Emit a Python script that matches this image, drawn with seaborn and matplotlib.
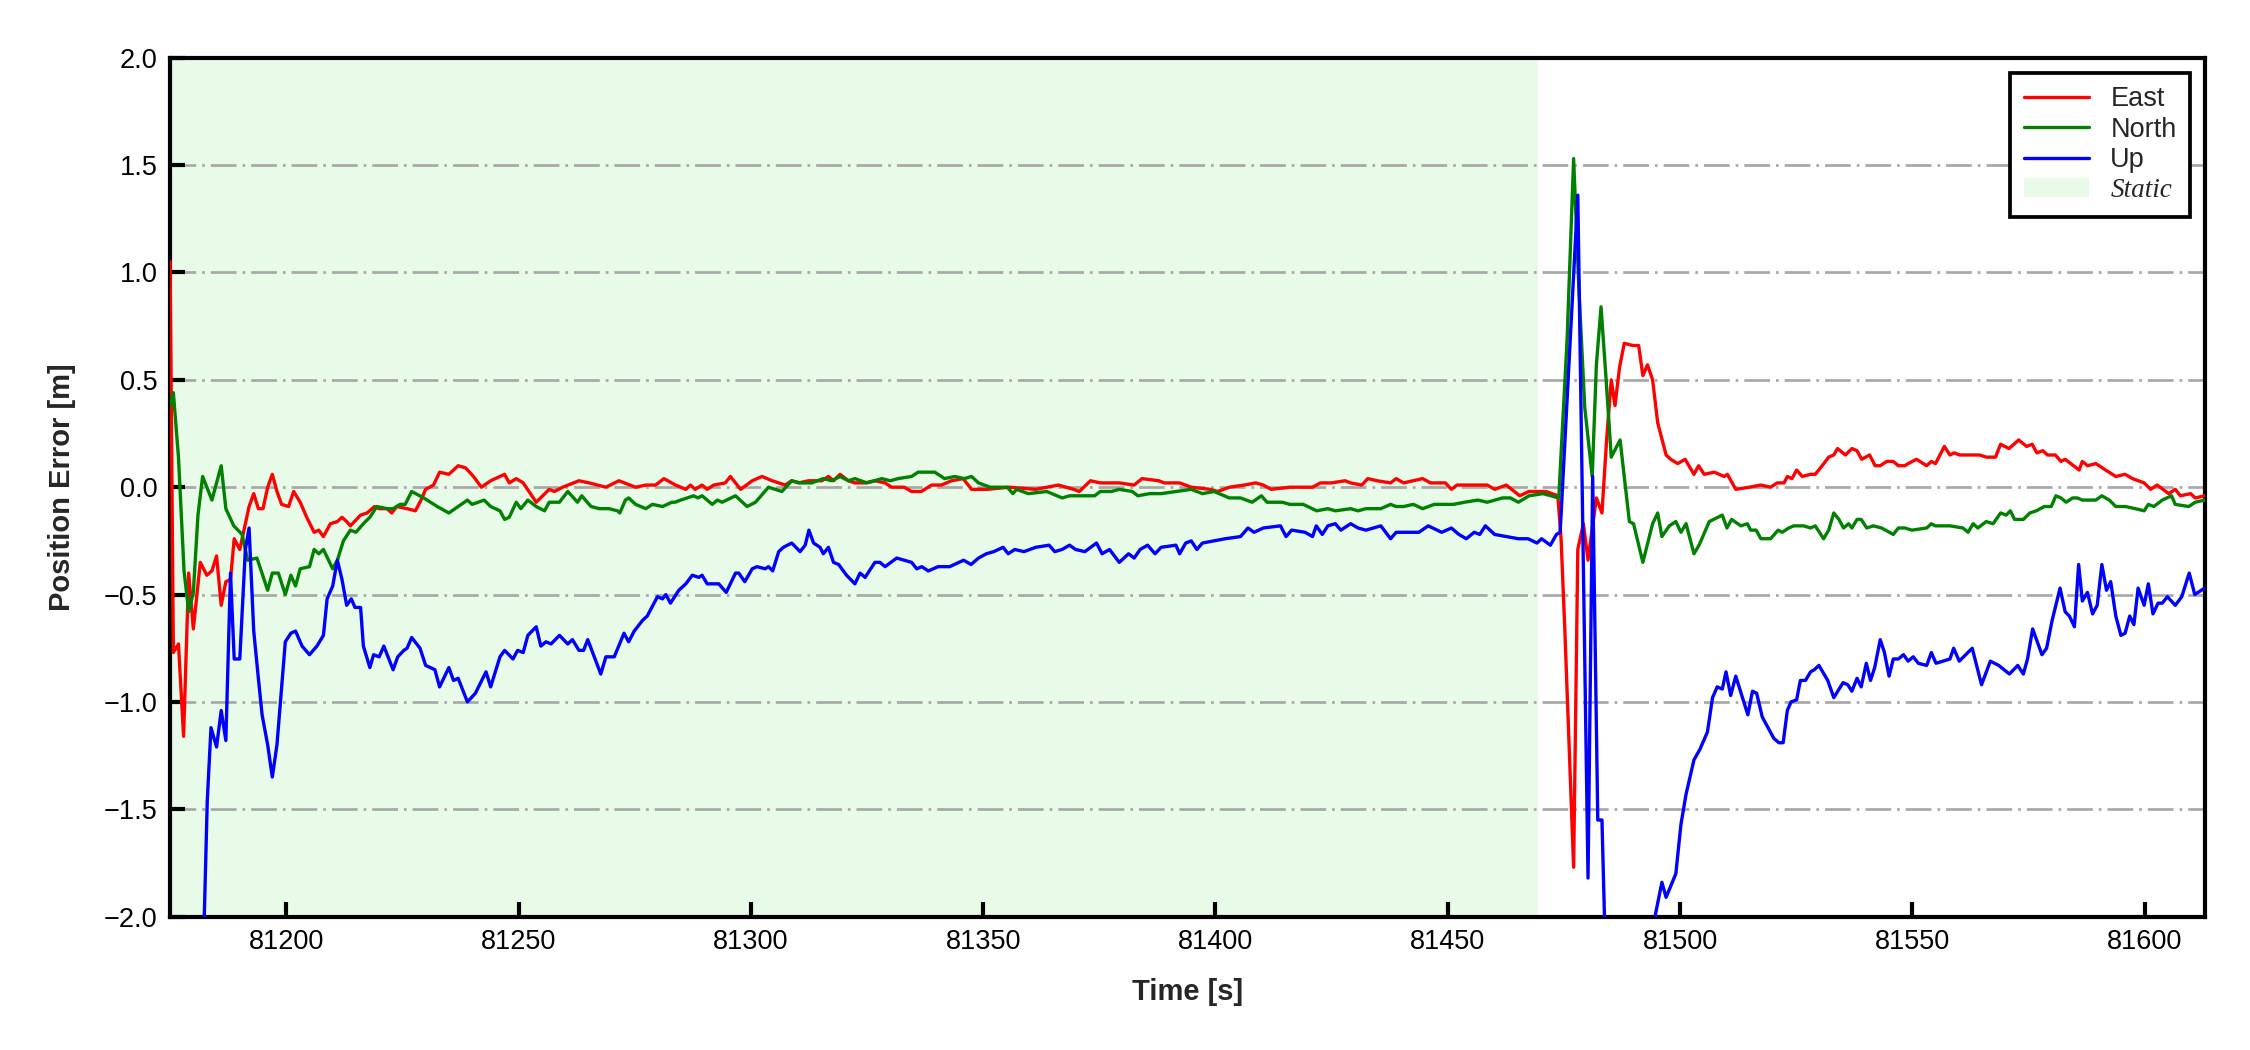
import numpy as np
import pandas as pd
import seaborn as sns
import matplotlib.pyplot as plt
from matplotlib.lines import Line2D
from matplotlib.patches import Patch

# static period and axis range
static_start = 81175.0
static_end = 81469.5
x_range = (81175.0, 81613.0)
y_range = (-2.0, 2.0)
x_ticks = [81200, 81250, 81300, 81350, 81400, 81450, 81500, 81550, 81600]
y_ticks = [-2.0, -1.5, -1.0, -0.5, 0.0, 0.5, 1.0, 1.5, 2.0]

# East error
t_east = [81175.0, 81175.7, 81176.8, 81177.9, 81179.0, 81180.0, 81181.5, 81182.9, 81184.0, 81185.0,
          81186.0, 81187.0, 81188.0, 81188.8, 81190.0, 81191.0, 81192.0, 81193.0, 81194.0, 81195.0,
          81196.0, 81197.0, 81198.0, 81199.0, 81200.5, 81201.6, 81203.0, 81204.4, 81206.0, 81207.0,
          81208.0, 81209.5, 81211.0, 81212.0, 81213.0, 81213.8, 81216.0, 81217.4, 81219.0, 81220.0,
          81221.7, 81222.7, 81223.8, 81226.0, 81227.8, 81229.0, 81230.0, 81231.7, 81233.0, 81235.0,
          81237.0, 81238.6, 81240.3, 81242.0, 81244.0, 81246.0, 81247.0, 81248.0, 81249.5, 81251.0,
          81253.8, 81256.6, 81257.7, 81259.5, 81263.0, 81265.2, 81268.8, 81271.6, 81275.2, 81277.4,
          81279.5, 81281.3, 81283.8, 81286.0, 81287.0, 81288.0, 81289.5, 81290.6, 81292.0, 81294.5,
          81295.6, 81297.8, 81300.3, 81302.4, 81304.6, 81307.4, 81308.8, 81310.3, 81312.4, 81315.3,
          81316.7, 81317.8, 81319.2, 81321.0, 81322.4, 81324.6, 81326.7, 81328.9, 81330.3, 81333.0,
          81334.6, 81336.7, 81338.9, 81341.0, 81343.2, 81345.7, 81347.5, 81351.0, 81355.6, 81361.3,
          81366.2, 81369.5, 81370.7, 81373.1, 81375.2, 81379.3, 81382.5, 81384.2, 81387.8, 81389.0,
          81392.3, 81394.8, 81398.9, 81400.5, 81403.0, 81406.2, 81408.7, 81410.3, 81412.0, 81416.0,
          81420.9, 81422.6, 81425.0, 81427.9, 81429.1, 81431.5, 81432.8, 81434.8, 81437.7, 81438.9,
          81440.5, 81444.6, 81446.3, 81449.5, 81450.8, 81452.0, 81455.2, 81458.5, 81460.1, 81462.6,
          81465.5, 81467.5, 81469.1, 81471.2, 81473.7, 81474.4, 81475.2, 81477.1, 81478.0, 81479.2,
          81480.2, 81482.0, 81483.2, 81484.2, 81485.2, 81486.0, 81487.0, 81488.0, 81489.8, 81491.1,
          81492.0, 81493.0, 81494.1, 81495.2, 81497.0, 81498.0, 81499.5, 81501.1, 81503.0, 81504.0,
          81505.2, 81507.4, 81509.5, 81510.2, 81512.0, 81514.9, 81517.4, 81519.5, 81520.9, 81522.4,
          81523.1, 81524.1, 81525.1, 81526.3, 81528.1, 81529.1, 81530.6, 81532.0, 81533.1, 81533.9,
          81535.6, 81537.0, 81538.1, 81539.1, 81540.8, 81542.0, 81543.1, 81544.5, 81545.9, 81547.0,
          81548.4, 81549.1, 81550.9, 81553.1, 81554.1, 81555.0, 81556.9, 81558.1, 81559.0, 81560.2,
          81562.7, 81564.5, 81565.9, 81567.9, 81569.0, 81570.8, 81572.9, 81574.6, 81575.8, 81576.8,
          81578.1, 81579.1, 81580.8, 81582.0, 81582.9, 81584.1, 81585.9, 81586.6, 81587.7, 81589.5,
          81591.6, 81593.8, 81595.8, 81597.4, 81599.9, 81601.3, 81602.7, 81605.2, 81606.6, 81607.7,
          81609.9, 81610.9, 81612.9]
east = [1.05, -0.77, -0.73, -1.16, -0.40, -0.66, -0.35, -0.41, -0.39, -0.32,
        -0.55, -0.44, -0.43, -0.24, -0.29, -0.19, -0.09, -0.03, -0.10, -0.10,
        0.00, 0.06, -0.02, -0.08, -0.09, -0.02, -0.07, -0.14, -0.21, -0.20,
        -0.23, -0.17, -0.16, -0.14, -0.16, -0.18, -0.13, -0.12, -0.09, -0.10,
        -0.10, -0.12, -0.09, -0.10, -0.11, -0.06, -0.01, 0.01, 0.07, 0.06,
        0.10, 0.09, 0.05, 0.00, 0.03, 0.05, 0.06, 0.02, 0.04, 0.02,
        -0.07, -0.01, -0.02, 0.00, 0.03, 0.02, 0.00, 0.03, 0.00, 0.01,
        0.01, 0.04, 0.01, -0.01, 0.01, -0.01, 0.01, -0.01, 0.01, 0.02,
        0.05, -0.01, 0.03, 0.05, 0.03, 0.01, 0.03, 0.02, 0.03, 0.03,
        0.05, 0.03, 0.06, 0.03, 0.02, 0.02, 0.03, 0.02, 0.00, 0.00,
        -0.02, -0.02, 0.01, 0.01, 0.03, 0.04, -0.01, -0.01, 0.00, -0.01,
        0.01, -0.01, -0.02, 0.03, 0.02, 0.02, 0.01, 0.04, 0.03, 0.02,
        0.02, 0.00, -0.01, -0.02, 0.00, 0.01, 0.02, 0.01, -0.01, 0.00,
        0.00, 0.02, 0.02, 0.03, 0.02, 0.01, 0.04, 0.03, 0.02, 0.04,
        0.02, 0.04, 0.02, 0.02, -0.01, 0.01, 0.01, 0.01, -0.01, 0.01,
        -0.04, -0.02, -0.02, -0.02, -0.04, -0.24, -0.66, -1.77, -0.29, -0.17,
        -0.34, -0.05, -0.12, 0.22, 0.50, 0.38, 0.56, 0.67, 0.66, 0.66,
        0.52, 0.57, 0.50, 0.30, 0.15, 0.13, 0.11, 0.13, 0.06, 0.10,
        0.06, 0.07, 0.05, 0.06, -0.01, 0.00, 0.01, 0.00, 0.02, 0.02,
        0.05, 0.04, 0.08, 0.05, 0.06, 0.06, 0.10, 0.14, 0.15, 0.18,
        0.15, 0.18, 0.17, 0.13, 0.15, 0.10, 0.10, 0.12, 0.12, 0.10,
        0.10, 0.11, 0.13, 0.10, 0.12, 0.11, 0.19, 0.15, 0.16, 0.15,
        0.15, 0.15, 0.14, 0.14, 0.20, 0.18, 0.22, 0.19, 0.20, 0.16,
        0.17, 0.15, 0.15, 0.12, 0.13, 0.11, 0.08, 0.12, 0.10, 0.11,
        0.08, 0.05, 0.06, 0.04, 0.02, -0.01, 0.01, -0.03, -0.01, -0.04,
        -0.03, -0.05, -0.04]

# North error
t_north = [81175.0, 81175.7, 81176.8, 81178.0, 81179.0, 81180.0, 81181.0, 81182.0, 81184.0, 81186.0,
           81187.0, 81188.7, 81190.5, 81191.7, 81193.7, 81196.0, 81197.0, 81198.3, 81199.8, 81201.0,
           81202.0, 81203.0, 81205.0, 81206.0, 81207.0, 81208.0, 81210.0, 81211.0, 81212.3, 81213.8,
           81215.0, 81216.6, 81218.0, 81219.5, 81221.7, 81223.0, 81224.5, 81225.6, 81227.0, 81229.6,
           81232.5, 81235.0, 81237.0, 81239.0, 81240.0, 81242.6, 81244.0, 81246.0, 81247.0, 81248.0,
           81249.5, 81250.5, 81252.0, 81253.8, 81255.6, 81256.6, 81258.8, 81260.6, 81262.7, 81263.6,
           81265.6, 81267.4, 81269.5, 81271.3, 81271.8, 81273.0, 81273.7, 81275.2, 81277.4, 81278.8,
           81281.0, 81283.0, 81283.7, 81284.9, 81286.3, 81287.7, 81288.6, 81289.5, 81291.7, 81292.8,
           81293.8, 81296.7, 81299.2, 81301.0, 81303.8, 81306.7, 81308.8, 81310.6, 81313.1, 81315.6,
           81317.4, 81319.2, 81321.0, 81322.4, 81325.0, 81328.2, 81330.0, 81331.7, 81334.6, 81336.0,
           81339.6, 81341.7, 81343.9, 81346.0, 81347.5, 81349.0, 81351.5, 81355.2, 81356.4, 81357.2,
           81359.7, 81363.7, 81367.0, 81368.6, 81371.1, 81374.0, 81375.2, 81377.6, 81379.3, 81382.1,
           81383.3, 81385.8, 81388.3, 81391.5, 81394.8, 81397.2, 81399.7, 81403.0, 81405.4, 81407.9,
           81409.9, 81411.1, 81414.4, 81416.0, 81418.9, 81421.8, 81424.2, 81425.8, 81429.1, 81430.7,
           81432.4, 81435.6, 81437.7, 81438.9, 81440.5, 81442.6, 81444.6, 81447.1, 81451.2, 81453.6,
           81456.5, 81458.5, 81461.8, 81463.5, 81465.2, 81467.5, 81470.5, 81473.9, 81475.7, 81477.1,
           81478.2, 81479.5, 81481.1, 81482.0, 81483.0, 81484.1, 81485.2, 81487.1, 81489.1, 81490.0,
           81492.0, 81494.1, 81495.2, 81496.1, 81497.7, 81499.1, 81500.2, 81501.3, 81503.0, 81504.1,
           81506.3, 81509.1, 81510.1, 81511.1, 81513.1, 81514.5, 81515.2, 81516.4, 81517.4, 81519.5,
           81521.1, 81522.0, 81523.4, 81524.5, 81526.6, 81528.1, 81529.1, 81530.9, 81532.0, 81533.1,
           81534.2, 81535.2, 81536.3, 81537.0, 81538.1, 81539.0, 81540.2, 81541.6, 81543.4, 81545.9,
           81547.0, 81548.4, 81549.9, 81553.1, 81554.1, 81554.9, 81558.1, 81560.9, 81562.0, 81563.1,
           81564.1, 81565.9, 81567.4, 81569.0, 81570.2, 81571.1, 81572.0, 81573.9, 81575.3, 81576.7,
           81578.4, 81579.9, 81580.9, 81582.0, 81583.1, 81584.5, 81585.5, 81586.6, 81588.1, 81589.5,
           81590.8, 81592.4, 81593.8, 81595.9, 81598.0, 81599.9, 81600.8, 81602.0, 81603.8, 81605.8,
           81606.6, 81609.5, 81610.9, 81612.9]
north = [0.38, 0.44, 0.14, -0.39, -0.58, -0.49, -0.13, 0.05, -0.06, 0.10,
         -0.10, -0.18, -0.22, -0.34, -0.33, -0.48, -0.40, -0.40, -0.50, -0.41,
         -0.46, -0.38, -0.37, -0.29, -0.31, -0.29, -0.38, -0.34, -0.25, -0.20,
         -0.21, -0.17, -0.14, -0.09, -0.10, -0.10, -0.08, -0.08, -0.02, -0.05,
         -0.09, -0.12, -0.09, -0.06, -0.08, -0.06, -0.09, -0.11, -0.15, -0.14,
         -0.07, -0.10, -0.06, -0.09, -0.11, -0.07, -0.07, -0.02, -0.07, -0.04,
         -0.09, -0.10, -0.10, -0.11, -0.12, -0.06, -0.05, -0.08, -0.10, -0.08,
         -0.09, -0.07, -0.07, -0.06, -0.05, -0.04, -0.05, -0.04, -0.08, -0.06,
         -0.07, -0.04, -0.09, -0.07, 0.00, -0.02, 0.03, 0.02, 0.02, 0.04,
         0.03, 0.05, 0.03, 0.04, 0.02, 0.04, 0.03, 0.04, 0.05, 0.07,
         0.07, 0.04, 0.05, 0.04, 0.05, 0.02, 0.00, 0.00, -0.03, -0.01,
         -0.03, -0.02, -0.05, -0.04, -0.04, -0.04, -0.02, -0.02, -0.01, -0.02,
         -0.04, -0.03, -0.03, -0.02, -0.01, -0.03, -0.02, -0.05, -0.05, -0.07,
         -0.04, -0.07, -0.07, -0.08, -0.08, -0.11, -0.10, -0.11, -0.10, -0.11,
         -0.10, -0.10, -0.08, -0.09, -0.09, -0.08, -0.10, -0.08, -0.08, -0.07,
         -0.06, -0.07, -0.05, -0.05, -0.07, -0.04, -0.03, -0.05, 0.69, 1.53,
         0.94, 0.37, 0.05, 0.57, 0.84, 0.50, 0.14, 0.22, -0.16, -0.17,
         -0.35, -0.17, -0.12, -0.23, -0.18, -0.16, -0.21, -0.17, -0.31, -0.27,
         -0.16, -0.13, -0.19, -0.15, -0.18, -0.17, -0.20, -0.20, -0.24, -0.24,
         -0.20, -0.21, -0.19, -0.18, -0.18, -0.19, -0.18, -0.24, -0.20, -0.12,
         -0.15, -0.19, -0.17, -0.19, -0.15, -0.15, -0.19, -0.18, -0.19, -0.22,
         -0.19, -0.19, -0.20, -0.19, -0.17, -0.18, -0.18, -0.19, -0.21, -0.17,
         -0.19, -0.16, -0.17, -0.12, -0.13, -0.11, -0.15, -0.15, -0.12, -0.11,
         -0.09, -0.09, -0.04, -0.05, -0.07, -0.05, -0.05, -0.06, -0.06, -0.06,
         -0.04, -0.06, -0.09, -0.09, -0.10, -0.11, -0.08, -0.09, -0.06, -0.04,
         -0.08, -0.09, -0.07, -0.06]

# Up error
t_up = [81175.0, 81179.0, 81182.0, 81183.0, 81183.8, 81185.0, 81186.0, 81187.0, 81188.0, 81188.8,
        81190.0, 81191.2, 81192.0, 81193.0, 81194.0, 81194.8, 81196.0, 81197.0, 81198.0, 81199.8,
        81201.0, 81202.0, 81203.4, 81205.0, 81206.6, 81208.0, 81208.8, 81210.0, 81211.0, 81212.0,
        81213.0, 81214.0, 81214.8, 81216.0, 81216.6, 81218.0, 81218.8, 81220.0, 81221.0, 81223.0,
        81224.0, 81225.3, 81226.0, 81227.0, 81228.8, 81230.0, 81232.0, 81233.0, 81235.0, 81236.0,
        81237.0, 81239.0, 81240.7, 81243.0, 81244.0, 81246.0, 81247.0, 81248.8, 81249.8, 81251.0,
        81252.0, 81253.8, 81254.8, 81255.9, 81257.0, 81258.8, 81260.6, 81261.6, 81263.0, 81264.0,
        81264.9, 81266.3, 81267.7, 81268.8, 81270.6, 81272.7, 81273.7, 81274.9, 81276.7, 81277.7,
        81279.9, 81281.0, 81281.7, 81282.7, 81284.5, 81286.0, 81287.4, 81288.8, 81289.5, 81290.6,
        81293.1, 81294.7, 81296.7, 81297.4, 81298.7, 81300.3, 81301.3, 81303.1, 81303.8, 81304.7,
        81306.0, 81307.0, 81308.8, 81310.6, 81311.7, 81312.5, 81313.5, 81314.9, 81315.6, 81316.7,
        81317.8, 81318.9, 81320.6, 81322.4, 81323.5, 81324.6, 81326.7, 81327.8, 81328.9, 81331.4,
        81334.6, 81335.7, 81336.8, 81338.2, 81340.3, 81342.8, 81345.8, 81347.4, 81349.0, 81350.7,
        81352.3, 81354.3, 81355.4, 81356.8, 81358.8, 81361.3, 81364.2, 81365.4, 81367.0, 81368.6,
        81369.9, 81371.9, 81374.4, 81375.6, 81377.2, 81379.3, 81381.3, 81382.5, 81383.8, 81385.4,
        81387.0, 81388.3, 81391.5, 81392.3, 81393.6, 81394.8, 81396.0, 81397.2, 81399.7, 81402.1,
        81405.4, 81407.0, 81408.3, 81410.3, 81414.0, 81415.2, 81416.4, 81419.3, 81420.9, 81421.7,
        81423.0, 81424.2, 81425.8, 81427.0, 81429.1, 81430.7, 81432.4, 81435.6, 81437.7, 81438.9,
        81441.4, 81443.8, 81445.8, 81448.7, 81450.8, 81452.4, 81454.0, 81455.7, 81456.9, 81458.1,
        81460.1, 81462.6, 81465.2, 81467.3, 81469.2, 81470.2, 81472.1, 81473.4, 81474.2, 81478.0,
        81480.2, 81481.2, 81482.3, 81483.2, 81484.1, 81486.0, 81488.0, 81490.0, 81492.0, 81493.8,
        81494.7, 81496.1, 81497.0, 81499.1, 81500.2, 81501.3, 81503.0, 81504.3, 81505.9, 81507.0,
        81508.0, 81509.1, 81509.9, 81510.9, 81512.0, 81514.6, 81515.6, 81516.5, 81517.7, 81520.2,
        81521.3, 81522.2, 81523.1, 81523.9, 81525.1, 81525.9, 81527.0, 81528.1, 81528.9, 81529.9,
        81531.8, 81533.1, 81535.1, 81536.1, 81537.0, 81538.1, 81539.0, 81540.1, 81541.0, 81541.9,
        81543.1, 81544.0, 81545.0, 81545.9, 81547.0, 81548.1, 81549.1, 81550.2, 81551.3, 81553.1,
        81554.1, 81555.1, 81556.6, 81558.1, 81558.9, 81560.1, 81562.9, 81564.9, 81566.8, 81568.6,
        81570.9, 81572.7, 81573.9, 81574.8, 81575.9, 81577.9, 81578.9, 81580.1, 81581.8, 81582.9,
        81583.8, 81584.9, 81585.8, 81586.6, 81587.7, 81588.8, 81589.8, 81590.8, 81591.8, 81592.7,
        81593.8, 81594.9, 81595.8, 81596.8, 81597.7, 81598.6, 81599.9, 81600.8, 81601.8, 81602.9,
        81603.8, 81604.9, 81606.6, 81608.0, 81609.6, 81610.8, 81612.9]
up = [-3.5, -3.0, -2.3, -1.46, -1.12, -1.21, -1.04, -1.18, -0.40, -0.80,
      -0.80, -0.29, -0.19, -0.67, -0.89, -1.06, -1.20, -1.35, -1.20, -0.72,
      -0.68, -0.67, -0.74, -0.78, -0.74, -0.69, -0.52, -0.46, -0.34, -0.43,
      -0.55, -0.52, -0.56, -0.56, -0.74, -0.84, -0.78, -0.79, -0.74, -0.85,
      -0.79, -0.76, -0.75, -0.70, -0.75, -0.83, -0.85, -0.93, -0.84, -0.90,
      -0.89, -1.00, -0.96, -0.86, -0.93, -0.79, -0.76, -0.80, -0.76, -0.77,
      -0.69, -0.65, -0.74, -0.72, -0.73, -0.69, -0.73, -0.71, -0.76, -0.76,
      -0.71, -0.79, -0.87, -0.79, -0.79, -0.68, -0.72, -0.67, -0.62, -0.60,
      -0.51, -0.52, -0.50, -0.54, -0.48, -0.45, -0.41, -0.42, -0.41, -0.45,
      -0.45, -0.49, -0.40, -0.40, -0.44, -0.38, -0.37, -0.38, -0.37, -0.39,
      -0.30, -0.28, -0.26, -0.30, -0.27, -0.20, -0.26, -0.28, -0.31, -0.28,
      -0.35, -0.36, -0.41, -0.45, -0.40, -0.42, -0.35, -0.35, -0.37, -0.33,
      -0.35, -0.38, -0.37, -0.39, -0.37, -0.37, -0.34, -0.36, -0.33, -0.31,
      -0.30, -0.28, -0.31, -0.29, -0.30, -0.28, -0.27, -0.30, -0.29, -0.27,
      -0.29, -0.30, -0.26, -0.31, -0.29, -0.35, -0.31, -0.33, -0.29, -0.27,
      -0.31, -0.28, -0.27, -0.31, -0.26, -0.25, -0.29, -0.26, -0.25, -0.24,
      -0.23, -0.19, -0.21, -0.19, -0.18, -0.23, -0.20, -0.21, -0.23, -0.18,
      -0.22, -0.18, -0.17, -0.20, -0.17, -0.19, -0.20, -0.18, -0.24, -0.21,
      -0.21, -0.21, -0.18, -0.21, -0.19, -0.22, -0.24, -0.21, -0.22, -0.18,
      -0.22, -0.23, -0.24, -0.24, -0.26, -0.24, -0.27, -0.22, -0.21, 1.36,
      -1.82, 0.05, -1.55, -1.55, -2.3, -2.8, -3.0, -2.9, -2.6, -2.2,
      -1.99, -1.84, -1.91, -1.80, -1.57, -1.43, -1.27, -1.22, -1.14, -0.98,
      -0.93, -0.94, -0.86, -0.97, -0.88, -1.06, -0.95, -0.96, -1.07, -1.17,
      -1.19, -1.19, -1.04, -1.00, -0.99, -0.90, -0.90, -0.86, -0.85, -0.83,
      -0.90, -0.98, -0.91, -0.92, -0.95, -0.89, -0.93, -0.82, -0.90, -0.84,
      -0.71, -0.77, -0.88, -0.80, -0.80, -0.78, -0.81, -0.79, -0.82, -0.83,
      -0.77, -0.82, -0.81, -0.80, -0.75, -0.81, -0.75, -0.92, -0.81, -0.83,
      -0.87, -0.83, -0.87, -0.80, -0.66, -0.78, -0.75, -0.62, -0.47, -0.58,
      -0.60, -0.65, -0.36, -0.53, -0.49, -0.59, -0.55, -0.36, -0.48, -0.44,
      -0.60, -0.69, -0.68, -0.60, -0.64, -0.47, -0.55, -0.45, -0.59, -0.54,
      -0.54, -0.51, -0.55, -0.51, -0.40, -0.50, -0.47]

colors = {'East': 'red', 'North': 'green', 'Up': 'blue'}

sns.set_theme(style='ticks')
plt.rcParams['font.family'] = ['Liberation Sans', 'DejaVu Sans']

fig, ax = plt.subplots(figsize=(7.5, 3.5), dpi=300)
fig.subplots_adjust(left=0.0756, right=0.98, top=0.945, bottom=0.127)

# static period shading
ax.axvspan(static_start, static_end, color='lightgreen', alpha=0.2, lw=0, zorder=0)

# the three error components
for name, t, v in [('East', t_east, east), ('North', t_north, north), ('Up', t_up, up)]:
    sns.lineplot(x=t, y=v, ax=ax, color=colors[name], lw=0.8, estimator=None, sort=False, zorder=3)

ax.set_xlim(*x_range)
ax.set_ylim(*y_range)
ax.set_xticks(x_ticks)
ax.set_yticks(y_ticks)
ax.set_yticklabels(['\u2212%.1f' % abs(v) if v < 0 else '%.1f' % v for v in y_ticks])
ax.yaxis.grid(True, color='#a8a8a8', lw=0.65, dashes=(9.5, 2.2, 1.0, 2.2), zorder=1)
ax.xaxis.grid(False)

ax.tick_params(direction='in', length=3.6, width=1.0, labelsize=6.5, pad=3, colors='black')
for s in ax.spines.values():
    s.set_linewidth(1.0)
    s.set_color('black')

ax.set_xlabel('Time [s]', fontsize=7, fontweight='bold', labelpad=5.4)
ax.set_ylabel('Position Error [m]', fontsize=7, fontweight='bold', labelpad=6.8)

# legend built by hand
handles = [Line2D([0], [0], color=colors[k], lw=0.8) for k in ['East', 'North', 'Up']]
handles.append(Patch(facecolor='lightgreen', alpha=0.2, edgecolor='none'))
leg = ax.legend(handles, ['East', 'North', 'Up', 'Static'], loc='upper right', fontsize=6.5,
                fancybox=False, framealpha=1, edgecolor='black', handlelength=2.4,
                labelspacing=0.17, borderaxespad=0.55, borderpad=0.5, handletextpad=0.8)
leg.get_frame().set_linewidth(0.9)
leg.get_texts()[3].set_fontfamily('Liberation Serif')
leg.get_texts()[3].set_fontstyle('italic')

plt.savefig('out.png', dpi=300)
plt.close()
